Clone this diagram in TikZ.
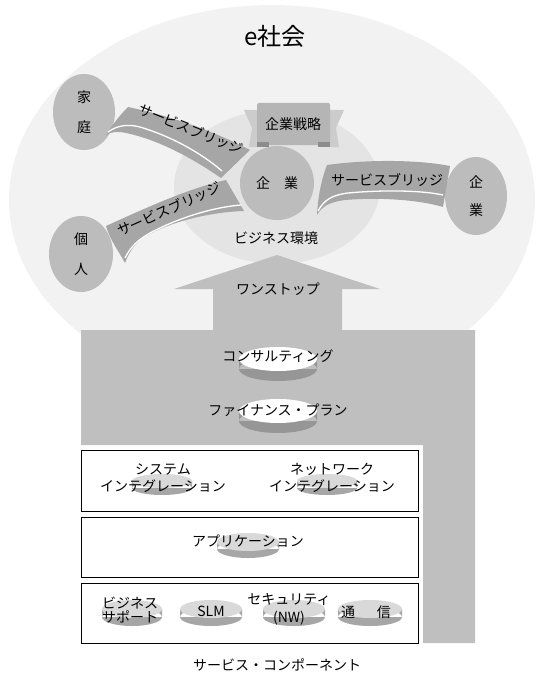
\documentclass[tikz,border=0pt]{standalone}
\usepackage{fontspec}
\setmainfont{Noto Sans CJK JP}
\usetikzlibrary{shapes.geometric}

\definecolor{society}{HTML}{F2F2F2}
\definecolor{bizenv}{HTML}{E4E4E4}
\definecolor{party}{HTML}{BCBCBC}
\definecolor{ribbon}{HTML}{A6A6A6}
\definecolor{onestop}{HTML}{BFBFBF}
\definecolor{plateside}{HTML}{969696}

% flat disk: centre, x radius, y radius, depth, top colour, side colour
\newcommand\plate[6]{%
  \fill[#6, shift={(#1)}] (0,#4) ellipse [x radius=#2, y radius=#3] (-#2,0) rectangle (#2,#4);
  \fill[#5, shift={(#1)}] (0,0) ellipse [x radius=#2, y radius=#3];}

\begin{document}
\begin{tikzpicture}[x=1pt, y=-1pt,
  txt/.style={font=\fontsize{14}{17}\selectfont, inner sep=0},
  party/.style={ellipse, fill=party, inner sep=0, align=center, font=\fontsize{14}{17}\selectfont},
  layer/.style={draw=black, line width=1pt, fill=white, minimum width=337, minimum height=60, inner sep=0},
  bridge/.style={fill=ribbon},
  shine/.style={draw=white, line width=1.3pt},
]
\useasboundingbox (0,0) rectangle (541,674);

% e-society and business environment
\fill[society] (272,200) ellipse [x radius=263, y radius=195];
\fill[bizenv] (277,187) ellipse [x radius=103, y radius=77];
\node[txt, font=\fontsize{24}{28}\selectfont] (esoc) at (275,36) {e社会};
\node[txt] (env) at (276,238) {ビジネス環境};

% one-stop arrow
\fill[onestop] (81,330) -- (213,330) -- (213,289) -- (174,289) -- (277,255) -- (380,289)
  -- (342,289) -- (342,330) -- (475,330) -- (475,643) -- (423,643) -- (423,445) -- (81,445) -- cycle;
\node[txt] (onestop) at (278,289) {ワンストップ};

% corporate strategy banner
\fill[black!20] (244,110) -- (258,110) -- (258,147) -- (249,147) -- (252,128) -- cycle;
\fill[black!20] (344,110) -- (329,110) -- (329,147) -- (339,147) -- (336,128) -- cycle;
\fill[black!29, rounded corners=1.5] (257,103) rectangle (330,145);
\fill[black!45] (257,142) rectangle (269,147);
\fill[black!45] (318,142) rectangle (330,147);
\node[txt] (strategy) at (293,124) {企業戦略};

% parties
\node[party, minimum width=62, minimum height=76] (home) at (84,112) {家\\[13pt]庭};
\node[party, minimum width=64, minimum height=76] (person) at (81,254) {個\\[13pt]人};
\node[party, minimum width=62, minimum height=78] (partner) at (476,196) {企\\[11pt]業};
\node[party, circle, minimum size=74] (firm) at (277,183) {企　業};

% service bridges
\fill[bridge] (128,107) .. controls (175,117) and (215,132) .. (250,150) -- (221,178)
  .. controls (195,160) and (160,140) .. (126,133) .. controls (117,131) and (111,132) .. (106,135)
  .. controls (112,126) and (118,117) .. cycle;
\draw[shine] (108,132) .. controls (118,125) and (128,124) .. (140,127) .. controls (170,136) and (200,152) .. (222,171);
\node[txt, rotate=-22] (bridgeA) at (191,129) {サービスブリッジ};

\fill[bridge] (106,226) .. controls (150,206) and (190,188) .. (226,180) -- (244,211)
  .. controls (210,212) and (170,222) .. (146,236) .. controls (136,242) and (130,250) .. (125,263)
  .. controls (118,250) and (110,240) .. cycle;
\draw[shine] (125,258) .. controls (131,246) and (138,240) .. (150,233) .. controls (180,217) and (215,207) .. (241,205);
\node[txt, rotate=24] (bridgeB) at (169,209) {サービスブリッジ};

\fill[bridge] (327,165) .. controls (370,159) and (420,160) .. (450,166) -- (443,207)
  .. controls (420,200) and (380,197) .. (345,200) .. controls (330,202) and (322,206) .. (317,215)
  .. controls (318,195) and (322,178) .. cycle;
\draw[shine] (318,211) .. controls (324,200) and (332,195) .. (348,193) .. controls (380,190) and (420,190) .. (443,195);
\node[txt] (bridgeC) at (387,180) {サービスブリッジ};

% services on the arrow
\plate{278,359}{39}{12}{10}{white}{plateside}
\node[txt] (consult) at (278,356) {コンサルティング};
\plate{278,411}{39}{12}{10}{white}{plateside}
\node[txt] (finance) at (278,410) {ファイナンス・プラン};

% component layers
\node[layer, minimum height=61] (layerA) at (249.5,480.5) {};
\node[layer] (layerB) at (249.5,547) {};
\node[layer] (layerC) at (249.5,613) {};

\plate{162,481}{30}{7}{7}{black!15}{black!35}
\plate{327,481}{30}{7}{7}{black!15}{black!35}
\node[txt, align=center] (sysint) at (163,478) {システム\\インテグレーション};
\node[txt, align=center] (netint) at (332,478) {ネットワーク\\インテグレーション};

\plate{248,542}{31}{9}{7}{black!15}{black!35}
\node[txt] (app) at (248,541) {アプリケーション};

\plate{132,609}{30}{9}{8}{black!15}{black!35}
\plate{211,609}{31}{9}{8}{black!15}{black!35}
\plate{294,609}{31}{9}{8}{black!15}{black!35}
\plate{370,609}{32}{9}{8}{black!15}{black!35}
\node[txt, align=center, font=\fontsize{14}{14}\selectfont] (bizsup) at (130,610) {ビジネス\\サポート};
\node[txt] (slm) at (211,611) {SLM};
\node[txt, align=center, font=\fontsize{14}{18}\selectfont] (sec) at (289,609) {セキュリティ\\(NW)};
\node[txt] (comm) at (366,612) {通\hspace{22pt}信};

\node[txt] (comp) at (277,665) {サービス・コンポーネント};
\end{tikzpicture}
\end{document}
